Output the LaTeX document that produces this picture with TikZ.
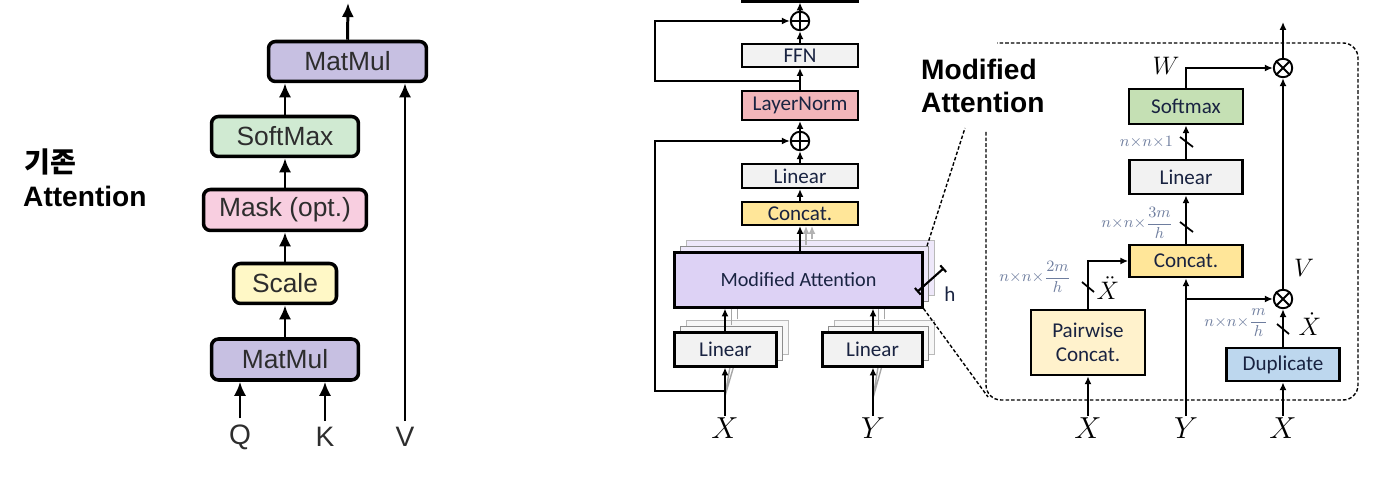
\documentclass[tikz,border=0pt]{standalone}
\usepackage{amsmath}
\usepackage[no-math]{fontspec}
\setmainfont{Liberation Sans}
\newfontfamily\carlito{Carlito}
\newfontfamily\korean{Noto Sans CJK KR}
\usepackage{tikz}
\usetikzlibrary{arrows.meta}
\usetikzlibrary{shadows}

\definecolor{mmc}{RGB}{199,192,226}
\definecolor{smc}{RGB}{208,234,210}
\definecolor{mkc}{RGB}{248,206,224}
\definecolor{scc}{RGB}{255,248,198}
\definecolor{txtgray}{RGB}{45,45,45}
\definecolor{lg}{RGB}{242,242,242}
\definecolor{lnc}{RGB}{242,182,186}
\definecolor{ccy}{RGB}{255,230,153}
\definecolor{mac}{RGB}{221,210,245}
\definecolor{sgc}{RGB}{197,224,180}
\definecolor{pwc}{RGB}{255,242,204}
\definecolor{dpc}{RGB}{189,215,238}
\definecolor{navy}{RGB}{25,35,65}
\definecolor{dimc}{RGB}{110,125,158}

\begin{document}
\begin{tikzpicture}[x=0.02cm, y=-0.02cm,
  lb/.style={draw, line width=2pt, rounded corners=4pt, text=txtgray, inner sep=0pt, font=\fontsize{15}{15}\selectfont},
  la/.style={line width=1.7pt, -{Latex[length=8pt,width=7pt]}},
  bx/.style={draw, line width=1.2pt, inner sep=0pt, text=navy, font=\carlito\fontsize{12}{12}\selectfont},
  bxr/.style={bx, line width=1.5pt},
  ar/.style={line width=1.2pt, -{Latex[length=4.5pt,width=4pt]}},
  op/.style={circle, draw, line width=1.1pt, minimum size=0.37cm, inner sep=0pt},
  dim/.style={text=dimc, anchor=east, inner sep=1pt, font=\fontsize{9}{9}\selectfont},
  tk/.style={line width=1pt},
  dl/.style={line width=0.8pt, dash pattern=on 2pt off 1.2pt},
  inp/.style={inner sep=1pt, font=\fontsize{17}{17}\selectfont},
  gl/.style={draw=gray!70, line width=0.8pt},
  cps/.style={copy shadow={shadow xshift=0.24cm, shadow yshift=0.24cm, draw=gray!55, fill=#1, line width=0.8pt},
    copy shadow={shadow xshift=0.12cm, shadow yshift=0.12cm, draw=gray!90, fill=#1, line width=0.8pt}}]
\useasboundingbox (0,0) rectangle (1376,499);

\node[font=\korean\bfseries\fontsize{16}{16}\selectfont, anchor=base west] (kr) at (18,173) {기존};
\node[font=\bfseries\fontsize{16}{16}\selectfont, anchor=base west] (att) at (17,207) {Attention};

\node[lb, fill=mmc, minimum width=3.16cm, minimum height=0.8cm] (mmT) at (347.5,61.5) {MatMul};
\node[lb, fill=smc, minimum width=2.94cm, minimum height=0.8cm] (smL) at (285,136.5) {SoftMax};
\node[lb, fill=mkc, minimum width=3.26cm, minimum height=0.82cm] (mask) at (285,210) {Mask (opt.)};
\node[lb, fill=scc, minimum width=2.06cm, minimum height=0.8cm] (scale) at (285,283.5) {Scale};
\node[lb, fill=mmc, minimum width=2.94cm, minimum height=0.82cm] (mmB) at (285,359.5) {MatMul};
\node[text=txtgray, font=\fontsize{16}{16}\selectfont] (q) at (240,437) {Q};
\node[text=txtgray, font=\fontsize{16}{16}\selectfont] (k) at (325,437) {K};
\node[text=txtgray, font=\fontsize{16}{16}\selectfont] (v) at (405,437) {V};
\coordinate (o1) at (348,3);
\draw[la] (q) -- (q |- mmB.south);
\draw[la] (k) -- (k |- mmB.south);
\draw[la] (v) -- (v |- mmT.south);
\draw[la] (mmB) -- (scale);
\draw[la] (scale) -- (mask);
\draw[la] (mask) -- (smL);
\draw[la] (smL.north) -- (smL.north |- mmT.south);
\draw[la] (mmT.north) -- (o1);

\node[bx, fill=lg, minimum width=2.32cm, minimum height=0.46cm] (top) at (800,-10) {};
\node[op] (pA) at (800,21) {};
\draw[line width=1.1pt] (pA.north) -- (pA.south) (pA.west) -- (pA.east);
\node[bx, fill=lg, minimum width=2.32cm, minimum height=0.46cm] (ffn) at (800,55.5) {FFN};
\node[bx, fill=lnc, minimum width=2.32cm, minimum height=0.58cm] (lnorm) at (800,105.5) {LayerNorm};
\node[op] (pB) at (800,141) {};
\draw[line width=1.1pt] (pB.north) -- (pB.south) (pB.west) -- (pB.east);
\node[bx, fill=lg, minimum width=2.32cm, minimum height=0.48cm] (lin1) at (800,176) {Linear};
\node[bx, fill=ccy, minimum width=2.32cm, minimum height=0.46cm] (cat1) at (800,213.5) {Concat.};
\draw[gl] (725,396) -- (731,361) (725,396) -- (737,355);
\draw[gl] (873,398) -- (879,361) (873,398) -- (885,355);
\node[bx, fill=lg, cps=gray!6, minimum width=2.04cm, minimum height=0.68cm] (linX) at (725.5,349.5) {Linear};
\node[bx, fill=lg, cps=gray!6, minimum width=2.0cm, minimum height=0.68cm] (linY) at (872.5,349.5) {Linear};
\node[bx, fill=mac, cps=mac!50, minimum width=4.96cm, minimum height=1.1cm, font=\carlito\fontsize{11.5}{11.5}\selectfont] (ma) at (798.5,280) {Modified Attention};
\foreach \d in {6,12} {
  \draw[gl] ([shift={(\d,-\d)}]linX.north) -- ([shift={(\d,0)}]linX.north |- ma.south);
  \draw[gl] ([shift={(\d,-\d)}]linY.north) -- ([shift={(\d,0)}]linY.north |- ma.south);
  \draw[ar, draw=gray!60, line width=0.8pt] ([shift={(\d,-\d)}]cat1.south |- ma.north) -- ([shift={(\d,0)}]cat1.south);
}
\node[inp] (x1) at (725,428) {$X$};
\node[inp] (y1) at (873,428) {$Y$};
\coordinate (rA) at (800,81);
\coordinate (rB) at (725,391);
\draw[ar] (pA) -- (top);
\draw[ar] (ffn) -- (pA);
\draw[ar] (lnorm) -- (ffn);
\draw[ar] (pB) -- (lnorm);
\draw[ar] (lin1) -- (pB);
\draw[ar] (cat1) -- (lin1);
\draw[ar] (cat1.south |- ma.north) -- (cat1.south);
\draw[ar] (x1 |- linX.north) -- (x1 |- ma.south);
\draw[ar] (y1 |- linY.north) -- (y1 |- ma.south);
\draw[ar] (x1) -- (x1 |- linX.south);
\draw[ar] (y1) -- (y1 |- linY.south);
\draw[ar] (rA) -- ++(-145,0) |- (pA);
\draw[ar] (rB) -- ++(-70,0) |- (pB);
\draw[line width=1.2pt, {Bar[width=5pt]}-{Bar[width=5pt]}] (917,292) -- (944,268);
\node[text=navy, font=\carlito\fontsize{12}{12}\selectfont] (hl) at (950,294) {h};

\draw[dl] (927,246) -- (965,128);
\draw[dl] (ma.south east) -- (988,397);
\draw[dl, rounded corners=0.3cm] (986,132) -- (986,400) -- (1358,400) -- (1358,43) -- (997,43);
\node[font=\bfseries\fontsize{16}{16}\selectfont, anchor=base west] (mt1) at (915,80) {Modified};
\node[font=\bfseries\fontsize{16}{16}\selectfont, anchor=base west] (mt2) at (915,113) {Attention};

\node[bxr, fill=sgc, minimum width=2.28cm, minimum height=0.7cm] (smx) at (1186,106.5) {Softmax};
\node[bxr, fill=lg, minimum width=2.26cm, minimum height=0.68cm] (lin2) at (1186,177) {Linear};
\node[bxr, fill=ccy, minimum width=2.26cm, minimum height=0.64cm] (cat2) at (1186,261) {Concat.};
\node[bxr, fill=pwc, minimum width=2.28cm, minimum height=1.3cm, align=center] (pw) at (1088,342.5) {Pairwise\\[2pt]Concat.};
\node[bxr, fill=dpc, minimum width=2.26cm, minimum height=0.66cm] (dup) at (1283,364.5) {Duplicate};
\node[op] (tU) at (1283,68) {};
\draw[line width=1.1pt] (tU.45) -- (tU.225) (tU.135) -- (tU.315);
\node[op] (tL) at (1283,299) {};
\draw[line width=1.1pt] (tL.45) -- (tL.225) (tL.135) -- (tL.315);
\node[inp] (x2) at (1088,428) {$X$};
\node[inp] (y2) at (1186,428) {$Y$};
\node[inp] (x3) at (1283,428) {$X$};
\node[inner sep=1pt, font=\fontsize{15}{15}\selectfont] (wl) at (1166,66) {$W$};
\node[inner sep=1pt, font=\fontsize{15}{15}\selectfont] (vl) at (1304,268) {$V$};
\coordinate (o2) at (1283,22);
\draw[ar] (tU) -- (o2);
\draw[ar] (smx.north) |- (tU);
\draw[ar] (lin2) -- (smx);
\draw[ar] (cat2) -- (lin2);
\draw[ar] (pw.north) |- (cat2);
\draw[ar] (y2) -- (cat2);
\draw[ar] (y2 |- tL) -- (tL);
\draw[ar] (dup) -- (tL);
\draw[ar] (tL) -- (tU);
\draw[ar] (x2) -- (pw);
\draw[ar] (x3) -- (dup);

\draw[tk] (1180,137) -- (1193,147);
\draw[tk] (1180,222) -- (1193,232);
\draw[tk] (1082,282) -- (1094,292);
\draw[tk] (1277,324) -- (1289,334);
\node[dim] (d1) at (1175,142) {$n{\times}n{\times}1$};
\node[dim] (d2) at (1175,223) {$n{\times}n{\times}\dfrac{3m}{h}$};
\node[dim] (d3) at (1073,277) {$n{\times}n{\times}\dfrac{2m}{h}$};
\node[dim] (d4) at (1270,323) {$n{\times}n{\times}\dfrac{m}{h}$};
\node[inner sep=1pt, font=\fontsize{14}{14}\selectfont] (xdd) at (1108,288) {$\ddot{X}$};
\node[inner sep=1pt, font=\fontsize{14}{14}\selectfont] (xd) at (1310,324) {$\dot{X}$};
\end{tikzpicture}
\end{document}
